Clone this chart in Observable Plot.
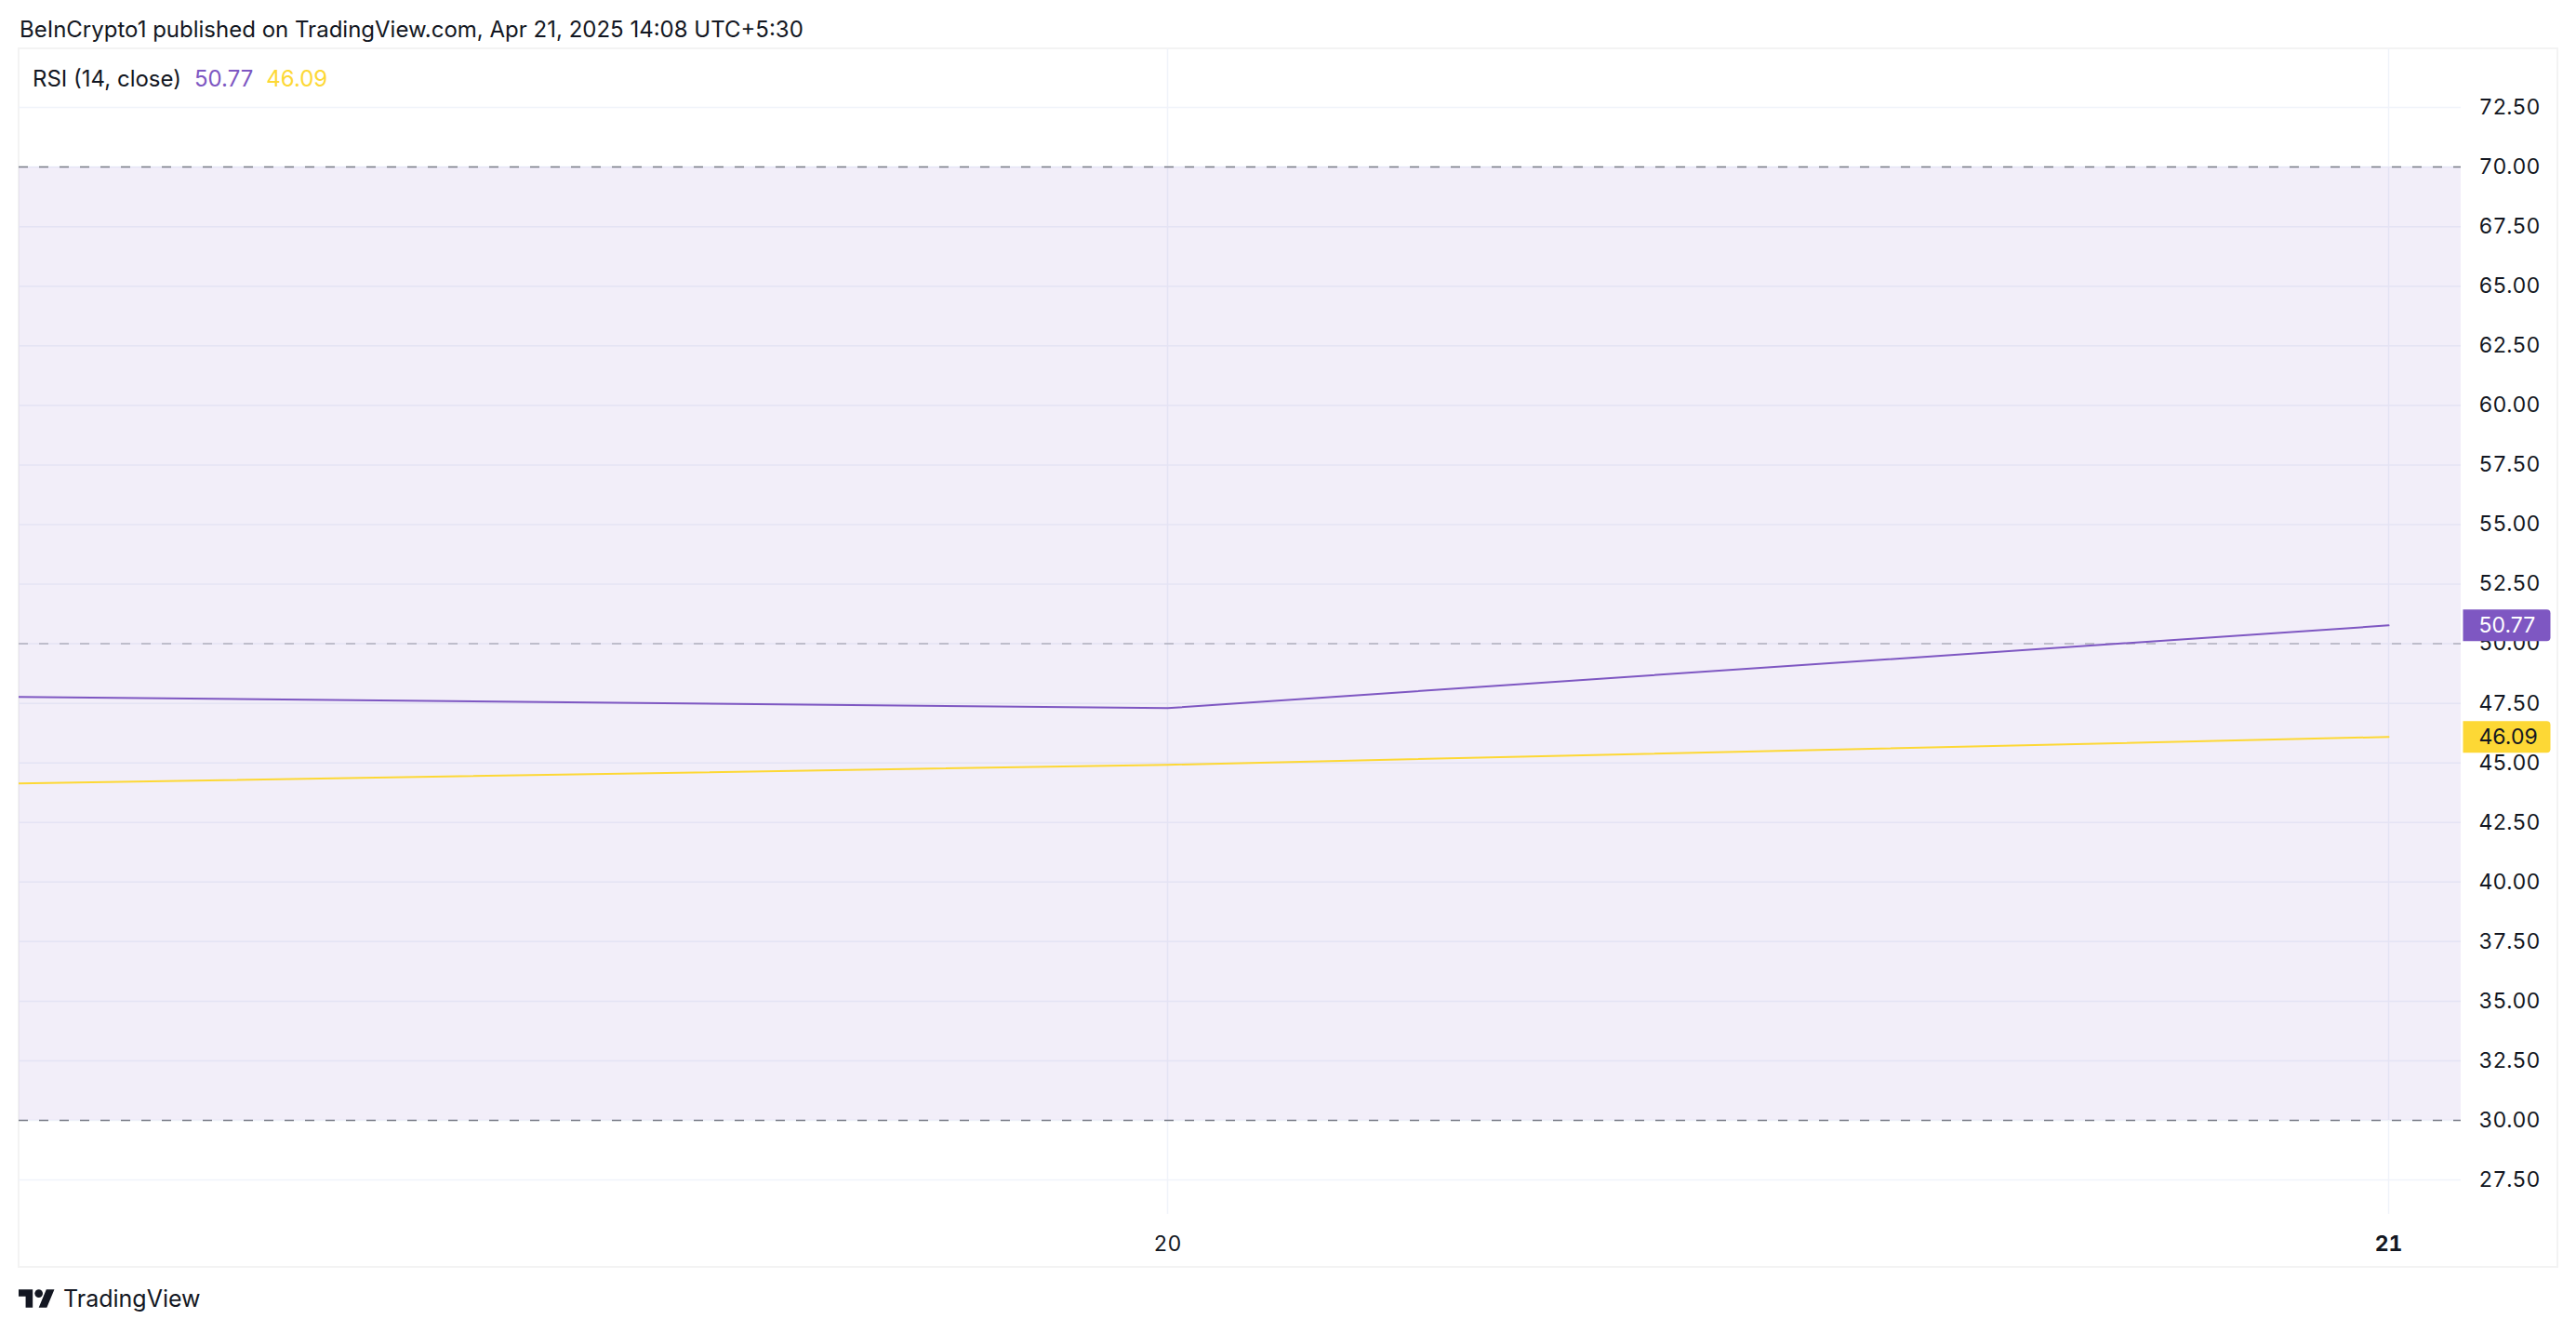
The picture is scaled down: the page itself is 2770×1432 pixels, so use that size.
<!DOCTYPE html>
<html><head><meta charset="utf-8">
<script src="https://cdn.jsdelivr.net/npm/d3@7"></script>
<script src="https://cdn.jsdelivr.net/npm/@observablehq/plot@0.6"></script>
<style>
html,body{margin:0;padding:0;background:#fff;}
body{width:2770px;height:1432px;position:relative;overflow:hidden;font-family:Inter,"Noto Sans",sans-serif;color:#131722;}
#header{position:absolute;left:21px;top:17px;font-size:24px;line-height:30px;white-space:nowrap;}
#frame{position:absolute;left:19px;top:51px;width:2732px;height:1312px;border:2px solid #f3f3f3;box-sizing:border-box;}
#chart{position:absolute;left:0;top:52px;}
#legend{position:absolute;left:35px;top:69px;font-size:24px;line-height:32px;white-space:nowrap;}
#legend span{margin-right:14px;}
#footer{position:absolute;left:20px;top:1381px;display:flex;align-items:center;gap:9px;font-size:25px;line-height:30px;}
</style></head>
<body>
<div id="header">BeInCrypto1 published on TradingView.com, Apr 21, 2025 14:08 UTC+5:30</div>
<div id="frame"></div>
<div id="chart"></div>
<div id="legend"></div>
<div id="footer"><svg width="39" height="20" viewBox="0 4 36 18"><path d="M14 22H7V11H0V4h14v18zM28 22h-8l7.5-18h8L28 22z" fill="#131722"/><circle cx="20" cy="8" r="4" fill="#131722"/></svg><span>TradingView</span></div>
<script>
// ---- data ----
const dates = ["2025-04-19", "2025-04-20", "2025-04-21"];
const rsiValues = [47.80, 47.30, 50.77];
const rsiMaValues = [44.09, 44.92, 46.09];
const yTicks = [27.5, 30, 32.5, 35, 37.5, 40, 42.5, 45, 47.5, 50, 52.5, 55, 57.5, 60, 62.5, 65, 67.5, 70, 72.5];
const xTickDates = ["2025-04-20", "2025-04-21"];
const xTickLabels = ["20", "21"];
const bandLevels = [30, 70];
const outerLevels = [70, 30];
const midLevels = [50];
const legendTitle = "RSI (14, close)";
const xDomain = ["2025-04-19T01:25:32Z", "2025-04-21T01:25:32Z"];
const yDomain = [26.06, 74.96];

const purple = "#7E57C2", yellow = "#FDD835", ink = "#131722";
const parse = d3.utcParse("%Y-%m-%d");
const fmt = d3.format(".2f");
const rsi = dates.map((d, i) => ({date: parse(d), value: rsiValues[i]}));
const ma = dates.map((d, i) => ({date: parse(d), value: rsiMaValues[i]}));
const xTicks = xTickDates.map(parse);
const labelOf = new Map(xTicks.map((d, i) => [+d, xTickLabels[i]]));

document.getElementById("legend").innerHTML =
  `<span>${legendTitle}</span><span style="color:${purple}">${fmt(rsiValues[rsiValues.length-1])}</span><span style="color:${yellow}">${fmt(rsiMaValues[rsiMaValues.length-1])}</span>`;

const boxSymbol = {
  draw(ctx) {
    const x0 = 2, x1 = 96, h = 17, r = 4;
    ctx.moveTo(x0, -h);
    ctx.lineTo(x1 - r, -h);
    ctx.arcTo(x1, -h, x1, -h + r, r);
    ctx.lineTo(x1, h - r);
    ctx.arcTo(x1, h, x1 - r, h, r);
    ctx.lineTo(x0, h);
    ctx.closePath();
  }
};

const lastRsi = [rsi[rsi.length - 1]];
const lastMa = [ma[ma.length - 1]];

const chart = Plot.plot({
  width: 2770, height: 1320,
  marginLeft: 20, marginRight: 124, marginTop: 0, marginBottom: 67,
  style: {fontFamily: "Inter, 'Noto Sans', sans-serif", fontSize: "23px", color: ink, background: "transparent", overflow: "visible"},
  x: {type: "utc", domain: xDomain.map(d => new Date(d))},
  y: {domain: yDomain},
  marks: [
    Plot.ruleY(yTicks, {stroke: "#F0F3FA", strokeWidth: 1.5}),
    Plot.ruleX(xTicks, {stroke: "#F0F3FA", strokeWidth: 1.5}),
    Plot.rect([bandLevels], {y1: d => d[0], y2: d => d[1], fill: purple, fillOpacity: 0.1}),
    Plot.ruleY(outerLevels, {stroke: "#787B86", strokeWidth: 1.5, strokeDasharray: "10,12"}),
    Plot.ruleY(midLevels, {stroke: "#787B86", strokeOpacity: 0.5, strokeWidth: 1.5, strokeDasharray: "10,12"}),
    Plot.lineY(ma, {x: "date", y: "value", stroke: yellow, strokeWidth: 2, clip: true}),
    Plot.lineY(rsi, {x: "date", y: "value", stroke: purple, strokeWidth: 2, clip: true}),
    Plot.axisY({anchor: "right", ticks: yTicks, tickSize: 0, tickPadding: 19, tickFormat: fmt, label: null, fill: ink}),
    Plot.axisX({anchor: "bottom", ticks: [xTicks[0]], tickSize: 0, tickPadding: 23, tickFormat: d => labelOf.get(+d), label: null, fill: ink}),
    Plot.axisX({anchor: "bottom", ticks: [xTicks[1]], tickSize: 0, tickPadding: 23, tickFormat: d => labelOf.get(+d), label: null, fill: ink, fontWeight: "bold"}),
    Plot.dot(lastMa, {y: "value", frameAnchor: "right", symbol: boxSymbol, fill: yellow, r: 10}),
    Plot.text(lastMa, {y: "value", frameAnchor: "right", text: d => fmt(d.value), textAnchor: "start", dx: 19, fill: ink, fontSize: 23}),
    Plot.dot(lastRsi, {y: "value", frameAnchor: "right", symbol: boxSymbol, fill: purple, r: 10}),
    Plot.text(lastRsi, {y: "value", frameAnchor: "right", text: d => fmt(d.value), textAnchor: "start", dx: 19, fill: "white", fontSize: 23})
  ]
});
document.getElementById("chart").appendChild(chart);
</script>
</body></html>
